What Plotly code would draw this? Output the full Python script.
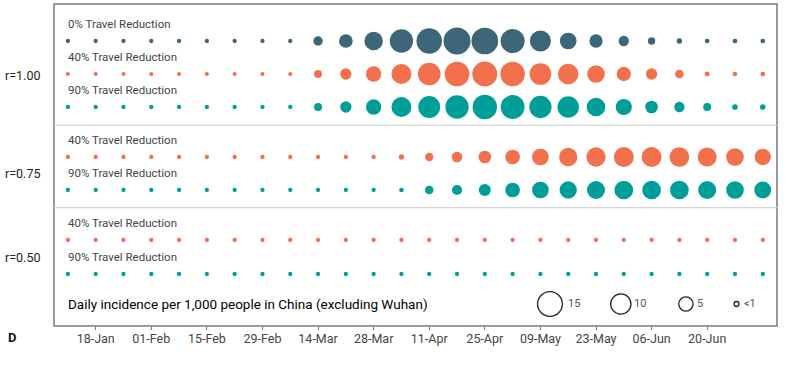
import pandas as pd
import plotly.graph_objects as go

# ---------------- data ----------------
dates = pd.date_range("2020-01-11", periods=26, freq="7D")

small = 0.45
r100_0 = [small]*9 + [2.2, 4.6, 8.4, 13.3, 15.9, 17.8, 17.4, 14.1, 10.8, 6.8, 4.3, 2.6, 1.3, 0.7, 0.55, 0.55, 0.55]
r100_40 = [0.42]*9 + [1.56, 3.1, 5.7, 9.8, 12.6, 14.9, 15.3, 14.7, 11.5, 10.3, 7.5, 5.0, 3.1, 1.85, 0.6, 0.55, 0.55]
r100_90 = [small]*9 + [1.56, 3.1, 5.7, 9.8, 11.8, 13.3, 14.6, 13.8, 12.1, 11.3, 8.5, 6.4, 3.9, 2.6, 1.56, 0.77, 0.77]
r075_40 = [small]*12 + [0.69, 1.68, 2.8, 3.94, 5.28, 6.81, 8.18, 9.09, 9.77, 9.77, 9.47, 8.81, 7.65, 6.49]
r075_90 = [small]*12 + [0.54, 1.76, 2.44, 3.52, 5.28, 6.81, 7.31, 7.91, 8.54, 8.54, 8.54, 7.91, 7.65, 7.06]
r050_40 = [small]*26
r050_90 = [small]*26

series_values = [r100_0, r100_40, r100_90, r075_40, r075_90, r050_40, r050_90]
series_labels = ["0% Travel Reduction", "40% Travel Reduction", "90% Travel Reduction",
                 "40% Travel Reduction", "90% Travel Reduction",
                 "40% Travel Reduction", "90% Travel Reduction"]
group_labels = ["r=1.00", "r=0.75", "r=0.50"]

tick_vals = pd.date_range("2020-01-18", periods=12, freq="14D")
tick_text = ["18-Jan", "01-Feb", "15-Feb", "29-Feb", "14-Mar", "28-Mar",
             "11-Apr", "25-Apr", "09-May", "23-May", "06-Jun", "20-Jun"]

legend_values = [15, 10, 5, 0.6]
legend_text = ["15", "10", "5", "<1"]

# ---------------- style / layout ----------------
DARK = "#3d6679"
ORANGE = "#f3704d"
TEAL = "#009e98"
series_colors = [DARK, ORANGE, TEAL, ORANGE, TEAL, ORANGE, TEAL]
row_y = [41, 74, 107, 157, 190, 240, 274]          # row layout positions
group_y = [75, 173, 257]
sep_y = [125.3, 207.7]
FONT = "Roboto, sans-serif"
SIZEREF = 2 / 6.4**2

fig = go.Figure()
for vals, col, yy in zip(series_values, series_colors, row_y):
    fig.add_trace(go.Scatter(
        x=dates, y=[yy]*len(dates), mode="markers",
        marker=dict(size=vals, sizemode="area", sizeref=SIZEREF, color=col,
                    opacity=1, line=dict(width=0)),
        showlegend=False, hoverinfo="skip"))

# size legend (overlay axis in domain fractions)
leg_x = [0.686, 0.784, 0.874, 0.944]
fig.add_trace(go.Scatter(
    x=leg_x, y=[304]*4, xaxis="x2", mode="markers",
    marker=dict(size=legend_values, sizemode="area", sizeref=SIZEREF, opacity=1,
                color="rgba(0,0,0,0)", line=dict(width=1.3, color="#222")),
    showlegend=False, hoverinfo="skip"))

ann = []
for lab, yy in zip(series_labels, row_y):
    ann.append(dict(x=dates[0], y=yy-17.5, xref="x", yref="y", text=lab,
                    showarrow=False, xanchor="left", yanchor="middle", xshift=-2,
                    font=dict(family=FONT, size=11.5, color="#444")))
for lab, yy in zip(group_labels, group_y):
    ann.append(dict(x=-0.017, y=yy, xref="paper", yref="y", text=lab,
                    showarrow=False, xanchor="right", yanchor="middle",
                    font=dict(family=FONT, size=12.5, color="#222")))
ann.append(dict(x=0.0166, y=304, xref="paper", yref="y",
                text="Daily incidence per 1,000 people in China (excluding Wuhan)",
                showarrow=False, xanchor="left", yanchor="middle",
                font=dict(family=FONT, size=13.5, color="#000")))
leg_lx = [0.708, 0.799, 0.887, 0.952]
for t, lx in zip(legend_text, leg_lx):
    ann.append(dict(x=lx, y=303, xref="paper", yref="y", text=t, showarrow=False,
                    xanchor="left", yanchor="middle",
                    font=dict(family=FONT, size=11, color="#555")))
ann.append(dict(x=-0.066, y=-0.037, xref="paper", yref="paper", text="<b>D</b>",
                showarrow=False, xanchor="left", yanchor="middle",
                font=dict(family=FONT, size=13, color="#111")))

shapes = [dict(type="rect", xref="paper", yref="paper", x0=0, x1=1, y0=0, y1=1,
               line=dict(color="#7a7a7a", width=1.5), layer="below")]
for sy in sep_y:
    shapes.append(dict(type="line", xref="paper", yref="y", x0=0, x1=1, y0=sy, y1=sy,
                       line=dict(color="#d4d4d4", width=1.2), layer="below"))

fig.update_layout(
    width=799, height=374,
    margin=dict(l=54, r=22, t=4, b=48),
    paper_bgcolor="white", plot_bgcolor="white",
    xaxis=dict(type="date", range=["2020-01-07 12:00", "2020-07-07 14:00"],
               tickvals=tick_vals, ticktext=tick_text, ticks="outside", ticklen=3,
               tickcolor="#777", showgrid=False, zeroline=False, showline=False,
               ticklabelstandoff=-2,
               tickfont=dict(family=FONT, size=12.5, color="#444")),
    xaxis2=dict(overlaying="x", range=[0, 1], visible=False),
    yaxis=dict(range=[326, 4], visible=False, showgrid=False, zeroline=False),
    annotations=ann, shapes=shapes,
)

fig.write_html("out.html", config={"displayModeBar": False},
               post_script="document.body.style.margin='0';")
